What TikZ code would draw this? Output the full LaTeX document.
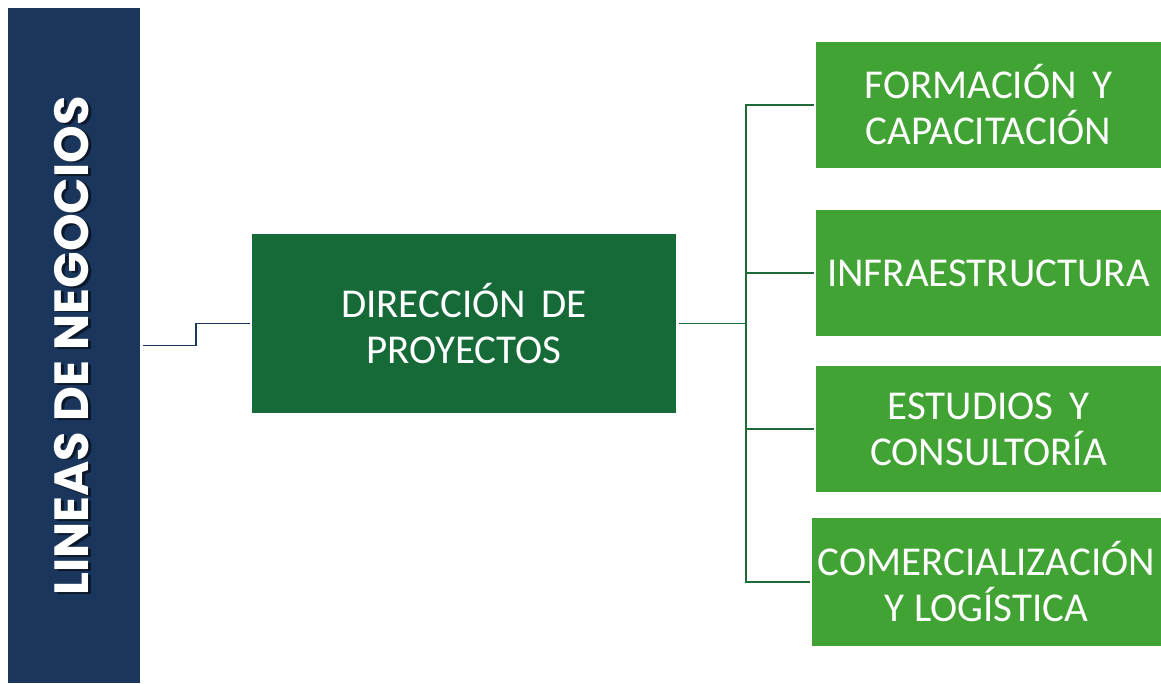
\documentclass[tikz,border=0pt]{standalone}
\usepackage{fontspec}
\setmainfont{Carlito}
\newfontfamily\titlefont{Poppins}
\definecolor{navy}{RGB}{27,54,93}
\definecolor{dkgreen}{RGB}{21,106,55}
\definecolor{ltgreen}{RGB}{65,163,52}
\definecolor{linegreen}{RGB}{30,107,58}
\begin{document}
\begin{tikzpicture}[x=1pt,y=-1pt,
  box/.style={rectangle, inner sep=0pt, align=center, text=white,
    font=\fontsize{41}{46}\selectfont},
  leaf/.style={box, fill=ltgreen, minimum width=345pt, minimum height=126pt},
  conn/.style={draw=linegreen, line width=1.6pt},
  bconn/.style={draw=navy, line width=1.6pt},
  ttl/.style={rotate=90, font=\titlefont\bfseries\fontsize{48}{52}\selectfont}]
\useasboundingbox (0,0) rectangle (1161,683);
\node[rectangle, fill=navy, inner sep=0pt, minimum width=132pt, minimum height=675pt] (lineas) at (74,345.5) {};
\node[ttl, text=black, opacity=0.55] (shadow) at (74.5,347.5) {LINEAS DE NEGOCIOS};
\node[ttl, text=white] (title) at (72,346) {LINEAS DE NEGOCIOS};
\node[box, fill=dkgreen, minimum width=424pt, minimum height=179pt] (dir) at (464,323.5) {DIRECCIÓN\hspace{0.15em} DE\\PROYECTOS};
\node[leaf] (b1) at (988.5,105) {FORMACIÓN\hspace{0.15em} Y\\CAPACITACIÓN};
\node[leaf] (b2) at (988.5,273) {INFRAESTRUCTURA};
\node[leaf] (b3) at (988.5,429) {ESTUDIOS\hspace{0.15em} Y\\CONSULTORÍA};
\node[leaf, minimum width=349pt, minimum height=128pt] (b4) at (986.5,582) {COMERCIALIZACIÓN\\Y LOGÍSTICA};
\coordinate (mid) at (196,0);
\coordinate (hub) at (746,0);
\draw[bconn] ([xshift=3pt]lineas.east) -| (mid |- dir.west) -- ([xshift=-2pt]dir.west);
\draw[conn] ([xshift=3pt]dir.east) -- (hub |- dir.east);
\draw[conn] (hub |- dir.east) |- ([xshift=-2pt]b1.west);
\draw[conn] (hub |- dir.east) |- ([xshift=-2pt]b2.west);
\draw[conn] (hub |- dir.east) |- ([xshift=-2pt]b3.west);
\draw[conn] (hub |- dir.east) |- ([xshift=-2pt]b4.west);
\end{tikzpicture}
\end{document}
